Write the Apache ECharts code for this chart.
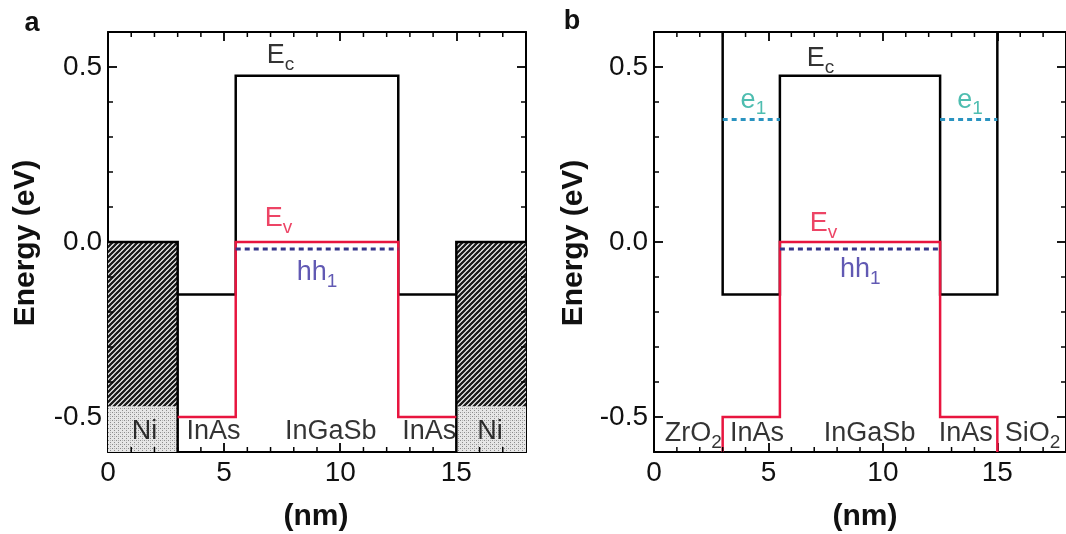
<!DOCTYPE html>
<html><head><meta charset="utf-8">
<script src="https://cdn.jsdelivr.net/npm/echarts@6/dist/echarts.min.js"></script>
<style>html,body{margin:0;padding:0;background:#fff}#c{width:1066px;height:534px}</style>
</head><body><div id="c"></div>
<script>
// ---- data ----
const xTickLabels = [0, 5, 10, 15];
const yTickLabels = [-0.5, 0, 0.5];
const xMinorTicks = [1,2,3,4,6,7,8,9,11,12,13,14,16,17];
const yMinorTicks = [-0.4,-0.3,-0.2,-0.1,0.1,0.2,0.3,0.4];
const xMin = 0, xMax = 18, yMin = -0.6, yMax = 0.6;
const xMajor = 5;

// panel a
const ecA  = [[3,-0.15],[5.5,-0.15],[5.5,0.475],[12.5,0.475],[12.5,-0.15],[15,-0.15]];
const evA  = [[3,-0.5],[5.5,-0.5],[5.5,0],[12.5,0],[12.5,-0.5],[15,-0.5]];
const hh1A = [[5.5,-0.02],[12.5,-0.02]];
const niOutlineL = [[0,0],[3,0],[3,-0.6]];
const niOutlineR = [[15,-0.6],[15,0],[18,0]];
const niRanges = [[0,3],[15,18]];
const niTop = 0, niSplit = -0.47;

// panel b
const ecB  = [[3,0.6],[3,-0.15],[5.5,-0.15],[5.5,0.475],[12.5,0.475],[12.5,-0.15],[15,-0.15],[15,0.6]];
const evB  = [[3,-0.6],[3,-0.5],[5.5,-0.5],[5.5,0],[12.5,0],[12.5,-0.5],[15,-0.5],[15,-0.6]];
const hh1B = [[5.5,-0.02],[12.5,-0.02]];
const e1BL = [[3,0.35],[5.5,0.35]];
const e1BR = [[12.5,0.35],[15,0.35]];

// annotations: [text, subscript, x, y, colourKey]
const annotA = [
  ['E','c',7.61,0.533,'k'], ['E','v',7.53,0.066,'r'], ['hh','1',9.42,-0.087,'n'],
  ['Ni','',1.57,-0.541,'k'], ['InAs','',4.54,-0.541,'k'], ['InGaSb','',9.59,-0.541,'k'],
  ['InAs','',13.83,-0.541,'k'], ['Ni','',16.45,-0.541,'k']
];
const annotB = [
  ['E','c',7.46,0.523,'k'], ['E','v',7.59,0.053,'r'], ['hh','1',9.44,-0.079,'n'],
  ['e','1',4.44,0.405,'t'], ['e','1',13.9,0.405,'t'],
  ['ZrO','2',2.5,-0.547,'k'], ['InAs','',4.5,-0.547,'k'], ['InGaSb','',9.42,-0.547,'k'],
  ['InAs','',13.62,-0.547,'k'], ['SiO','2',17.29,-0.547,'k']
];

// ---- styles ----
const FONT = 'Liberation Sans, Arial, sans-serif';
const COL = {k:'#000000', r:'#e8153f', n:'#3a2fa0', t:'#22ad9c'};
const RED = '#e8153f', NAVY = '#35358a', TEAL = '#2a93c0';
const MINOR_LEN = 5, MAJOR_LEN = 9;

function hatch(){
  const s=5, c=document.createElement('canvas'); c.width=c.height=s;
  const g=c.getContext('2d'); g.fillStyle='#fff'; g.fillRect(0,0,s,s);
  g.strokeStyle='#1a1a1a'; g.lineWidth=2.3; g.beginPath();
  g.moveTo(0,s); g.lineTo(s,0); g.moveTo(-1,1); g.lineTo(1,-1); g.moveTo(s-1,s+1); g.lineTo(s+1,s-1);
  g.stroke(); return c;
}
function stipple(){
  const s=4, c=document.createElement('canvas'); c.width=c.height=s;
  const g=c.getContext('2d'); g.fillStyle='#e6e6e6'; g.fillRect(0,0,s,s);
  g.fillStyle='#8c8c8c'; g.fillRect(0,0,1,1); g.fillRect(2,2,1,1); g.fillStyle='#b5b5b5'; g.fillRect(2,0,1,1);
  return c;
}
const hatchPat = {image: hatch(), repeat: 'repeat'};
const stipPat = {image: stipple(), repeat: 'repeat'};

const grids = [
  {left:108, top:32, width:418, height:420},
  {left:654, top:32, width:418, height:420}
];

const xAxes = [], yAxes = [];
function mkLine(){ return {show:true, onZero:false, lineStyle:{color:'#000', width:2}}; }
function mkTick(){ return {show:true, inside:true, length:MAJOR_LEN, lineStyle:{color:'#000',width:1.8}}; }
function addAxes(gi){
  ['bottom','top'].forEach(pos=>{
    xAxes.push({type:'value', gridIndex:gi, position:pos, min:xMin, max:xMax, interval:xMajor,
      splitLine:{show:false}, axisLine:mkLine(), axisTick:mkTick(),
      axisLabel: pos==='bottom'
        ? {show:true, customValues:xTickLabels, fontSize:28, color:'#111', fontFamily:FONT, margin:7}
        : {show:false}});
  });
  ['left','right'].forEach(pos=>{
    yAxes.push({type:'value', gridIndex:gi, position:pos, min:yMin, max:yMax, splitNumber:2,
      splitLine:{show:false}, axisLine:mkLine(), axisTick:mkTick(),
      axisLabel: pos==='left'
        ? {show:true, customValues:yTickLabels, fontSize:28, color:'#111', fontFamily:FONT, margin:6,
           formatter:v=>Number(v).toFixed(1)}
        : {show:false}});
  });
}
addAxes(0); addAxes(1);

// minor ticks (inward) on all four frame sides, placed through the axes' scales
function minorTickSeries(gi){
  const data = [];
  xMinorTicks.forEach(v=>data.push([v, yMin, 0]));
  yMinorTicks.forEach(v=>data.push([xMin, v, 1]));
  return {type:'custom', xAxisIndex:2*gi, yAxisIndex:2*gi, data:data, silent:true, animation:false, z:6, clip:false,
    renderItem:(params, api)=>{
      const st = {stroke:'#000', lineWidth:1.5};
      if (api.value(2) === 0) {
        const v = api.value(0), b = api.coord([v, yMin]), t = api.coord([v, yMax]);
        return {type:'group', children:[
          {type:'line', shape:{x1:b[0], y1:b[1], x2:b[0], y2:b[1]-MINOR_LEN}, style:st},
          {type:'line', shape:{x1:t[0], y1:t[1], x2:t[0], y2:t[1]+MINOR_LEN}, style:st}]};
      }
      const v = api.value(1), l = api.coord([xMin, v]), r = api.coord([xMax, v]);
      return {type:'group', children:[
        {type:'line', shape:{x1:l[0], y1:l[1], x2:l[0]+MINOR_LEN, y2:l[1]}, style:st},
        {type:'line', shape:{x1:r[0], y1:r[1], x2:r[0]-MINOR_LEN, y2:r[1]}, style:st}]};
    }};
}

function lineS(gi, data, color, width, type, z){
  return {type:'line', xAxisIndex:2*gi, yAxisIndex:2*gi, data:data, showSymbol:false, symbol:'none',
    animation:false, silent:true, z:z||3,
    lineStyle:{color:color, width:width, type:type||'solid', cap:'butt', join:'miter'}};
}
function annotSeries(gi, list){
  const data = [];
  list.forEach(a=>{
    const col = COL[a[4]];
    if (a[1]) {
      data.push({value:[a[2],a[3]], label:{show:true, formatter:a[0], position:[0,0], align:'right', verticalAlign:'middle',
        fontSize:27, color:col, fontFamily:FONT}});
      data.push({value:[a[2],a[3]], label:{show:true, formatter:a[1], position:[0,0], align:'left', verticalAlign:'middle',
        offset:[0,9], fontSize:19, color:col, fontFamily:FONT}});
    } else {
      data.push({value:[a[2],a[3]], label:{show:true, formatter:a[0], position:[0,0], align:'center', verticalAlign:'middle',
        fontSize:27, color:col, fontFamily:FONT}});
    }
  });
  return {type:'scatter', xAxisIndex:2*gi, yAxisIndex:2*gi, symbolSize:0, data:data, silent:true, animation:false, z:5};
}

const niAreas = [];
niRanges.forEach(r=>{
  niAreas.push([{coord:[r[0],niTop], itemStyle:{color:hatchPat}}, {coord:[r[1],niSplit]}]);
  niAreas.push([{coord:[r[0],niSplit], itemStyle:{color:stipPat}}, {coord:[r[1],yMin]}]);
});

const series = [
  {type:'line', xAxisIndex:0, yAxisIndex:0, data:[], z:1, silent:true, animation:false,
    markArea:{silent:true, itemStyle:{borderWidth:0}, data:niAreas}},
  lineS(0, niOutlineL, '#000', 2.5),
  lineS(0, niOutlineR, '#000', 2.5),
  lineS(0, ecA, '#000', 2.5),
  lineS(0, evA, RED, 2.5),
  lineS(0, hh1A, NAVY, 3, [5,4], 4),
  annotSeries(0, annotA),
  minorTickSeries(0),
  lineS(1, ecB, '#000', 2.5),
  lineS(1, evB, RED, 2.5),
  lineS(1, hh1B, NAVY, 3, [5,4], 4),
  lineS(1, e1BL, TEAL, 3, [5,4], 4),
  lineS(1, e1BR, TEAL, 3, [5,4], 4),
  annotSeries(1, annotB),
  minorTickSeries(1)
];

const titleFont = 'bold 30px ' + FONT;
const graphic = [
  {type:'text', x:32, y:24, style:{text:'a', font:'bold 27px '+FONT, fill:'#111', align:'center', verticalAlign:'middle'}},
  {type:'text', x:572, y:22, style:{text:'b', font:'bold 27px '+FONT, fill:'#111', align:'center', verticalAlign:'middle'}},
  {type:'text', x:26, y:243, rotation:Math.PI/2, style:{text:'Energy (eV)', font:titleFont, fill:'#111', align:'center', verticalAlign:'middle'}},
  {type:'text', x:574, y:243, rotation:Math.PI/2, style:{text:'Energy (eV)', font:titleFont, fill:'#111', align:'center', verticalAlign:'middle'}},
  {type:'text', x:316, y:517, style:{text:'(nm)', font:titleFont, fill:'#111', align:'center', verticalAlign:'middle'}},
  {type:'text', x:865, y:517, style:{text:'(nm)', font:titleFont, fill:'#111', align:'center', verticalAlign:'middle'}}
];

const chart = echarts.init(document.getElementById('c'), null, {renderer:'canvas'});
chart.setOption({
  backgroundColor:'#fff', animation:false,
  grid:grids, xAxis:xAxes, yAxis:yAxes, series:series, graphic:graphic
});
</script></body></html>
